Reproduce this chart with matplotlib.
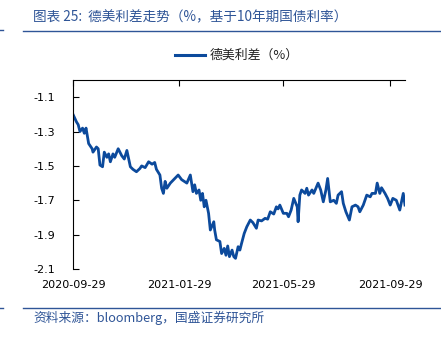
import matplotlib
matplotlib.use("Agg")
import matplotlib.pyplot as plt
from matplotlib.lines import Line2D
import datetime as dt

plt.rcParams['font.family'] = ['Noto Sans CJK SC', 'DejaVu Sans']

title = "图表 25:  德美利差走势（%，基于10年期国债利率）"
source = "资料来源：bloomberg，国盛证券研究所"
series_name = "德美利差（%）"
start_date = "2020-09-29"
end_date = "2021-10-16"
tick_dates = ["2020-09-29", "2021-01-29", "2021-05-29", "2021-09-29"]
y_ticks = [-2.1, -1.9, -1.7, -1.5, -1.3, -1.1]

# days after start_date
day_offsets = [0, 4, 6, 8, 11, 13, 15, 18, 22, 23, 27, 29, 31, 34, 36, 39, 41, 43, 46, 48,
               52, 56, 59, 62, 66, 69, 73, 77, 79, 83, 87, 91, 94, 96, 100, 102, 104, 106, 108, 112,
               119, 121, 125, 131, 135, 138, 140, 142, 145, 147, 149, 151, 153, 156, 158, 162, 163, 165, 169, 171,
               174, 176, 178, 180, 183, 185, 187, 190, 192, 194, 197, 200, 204, 207, 211, 213, 217, 221, 224, 227,
               231, 234, 236, 238, 242, 246, 248, 251, 254, 258, 259, 261, 263, 267, 269, 271, 275, 277, 282, 285,
               288, 291, 293, 296, 300, 303, 305, 309, 311, 314, 318, 321, 325, 328, 330, 334, 338, 342, 344, 348,
               350, 353, 355, 359, 362, 365, 368, 372, 376, 380, 382]
spread = [-1.20, -1.244, -1.26, -1.30, -1.28, -1.31, -1.28, -1.37, -1.40, -1.42, -1.39, -1.40, -1.495, -1.505, -1.42, -1.45, -1.43, -1.476, -1.43, -1.45,
          -1.40, -1.44, -1.46, -1.41, -1.505, -1.52, -1.534, -1.515, -1.50, -1.51, -1.476, -1.49, -1.48, -1.52, -1.553, -1.63, -1.66, -1.59, -1.63, -1.60,
          -1.563, -1.553, -1.58, -1.60, -1.553, -1.65, -1.61, -1.66, -1.64, -1.70, -1.66, -1.738, -1.70, -1.776, -1.873, -1.825, -1.873, -1.93, -1.94, -2.01,
          -1.98, -2.02, -1.966, -2.028, -1.99, -2.028, -2.038, -1.97, -1.99, -1.95, -1.893, -1.854, -1.815, -1.83, -1.863, -1.815, -1.82, -1.805, -1.81, -1.767,
          -1.78, -1.738, -1.75, -1.728, -1.776, -1.776, -1.796, -1.757, -1.689, -1.738, -1.825, -1.67, -1.64, -1.66, -1.63, -1.67, -1.64, -1.66, -1.60, -1.64,
          -1.709, -1.64, -1.573, -1.709, -1.70, -1.718, -1.67, -1.65, -1.718, -1.767, -1.815, -1.738, -1.728, -1.738, -1.767, -1.728, -1.67, -1.68, -1.66, -1.66,
          -1.60, -1.66, -1.627, -1.66, -1.689, -1.728, -1.689, -1.70, -1.757, -1.66, -1.728]

blue = "#0C4A9C"
text_blue = "#2F5597"

s0 = dt.datetime.strptime(start_date, "%Y-%m-%d")
dates = [s0 + dt.timedelta(days=d) for d in day_offsets]

fig = plt.figure(figsize=(4.41, 3.37), dpi=100)
ax = fig.add_axes([73/441, 1-269/337, (405-73)/441, (269-80)/337])

ax.plot(dates, spread, color=blue, lw=2.0, solid_joinstyle='round')

ax.set_xlim(s0, dt.datetime.strptime(end_date, "%Y-%m-%d"))
ax.set_ylim(-2.1, -1.0)
ax.set_yticks(y_ticks)
ax.set_yticklabels([f"{v:.1f}" for v in y_ticks], family='DejaVu Sans', fontsize=8)
td = [dt.datetime.strptime(t, "%Y-%m-%d") for t in tick_dates]
ax.set_xticks(td)
ax.set_xticklabels(tick_dates, family='DejaVu Sans', fontsize=8)

ax.spines['right'].set_visible(False)
ax.spines['bottom'].set_visible(False)
ax.spines['top'].set_color('black')
ax.spines['left'].set_color('black')
ax.spines['top'].set_linewidth(0.8)
ax.spines['left'].set_linewidth(0.8)
ax.tick_params(axis='x', top=True, bottom=False, labelbottom=True, labeltop=False,
               direction='in', length=4, width=0.8, pad=8)
ax.tick_params(axis='y', left=True, direction='in', length=4, width=0.8, pad=13)

# legend
fig.add_artist(Line2D([175/441, 205/441], [1-55/337, 1-55/337], color=blue, lw=2.2))
fig.text(210/441, 1-55/337, series_name, fontsize=9.3, va='center', ha='left', color='#222222')

# title and rules
fig.text(33/441, 1-17/337, title, fontsize=9.8, va='center', ha='left', color=text_blue)
fig.add_artist(Line2D([23/441, 1.0], [1-31/337, 1-31/337], color=text_blue, lw=1.0))
fig.add_artist(Line2D([0, 3/441], [1-30/337, 1-30/337], color=text_blue, lw=1.0))
fig.add_artist(Line2D([23/441, 1.0], [1-308/337, 1-308/337], color=text_blue, lw=1.0))
fig.add_artist(Line2D([0, 3/441], [1-308/337, 1-308/337], color=text_blue, lw=1.0))
fig.text(33/441, 1-318/337, source, fontsize=9.2, va='center', ha='left', color=text_blue)

fig.savefig("out.png", dpi=100)
